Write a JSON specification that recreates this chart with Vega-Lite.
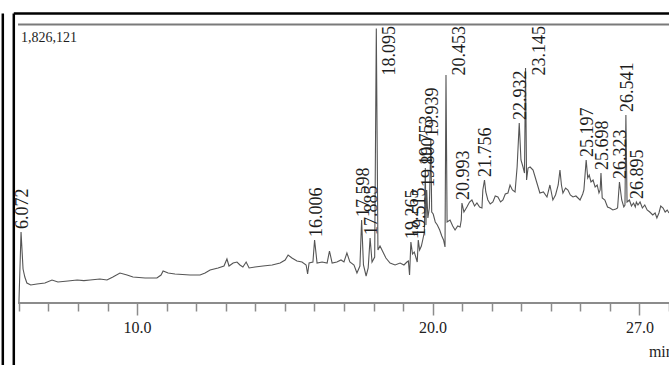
{
  "$schema": "https://vega.github.io/schema/vega-lite/v6.json",
  "width": 669,
  "height": 365,
  "autosize": {"type": "none"},
  "padding": 0,
  "background": "white",
  "config": {
    "view": {"stroke": null},
    "font": "Liberation Serif",
    "axisY": {"disable": true},
    "axisX": {"labelOverlap": false, "labelFlush": false, "labelBound": false, "grid": false, "title": null}
  },
  "datasets": {
    "trace": [
      {"t": 6.00, "v": 0}, {"t": 6.072, "v": 472500}, {"t": 6.14, "v": 226000}, {"t": 6.20, "v": 173000},
      {"t": 6.27, "v": 133100}, {"t": 6.40, "v": 119800}, {"t": 6.61, "v": 126400}, {"t": 6.88, "v": 133100},
      {"t": 7.12, "v": 153100}, {"t": 7.32, "v": 139800}, {"t": 7.66, "v": 146400}, {"t": 7.97, "v": 153100},
      {"t": 8.20, "v": 149000}, {"t": 8.41, "v": 153100}, {"t": 8.74, "v": 159700}, {"t": 8.98, "v": 153100},
      {"t": 9.18, "v": 173000}, {"t": 9.42, "v": 199700}, {"t": 9.66, "v": 186300}, {"t": 9.86, "v": 173000},
      {"t": 10.27, "v": 166400}, {"t": 10.67, "v": 166400}, {"t": 10.81, "v": 186300}, {"t": 10.88, "v": 213000},
      {"t": 11.05, "v": 199700}, {"t": 11.28, "v": 193000}, {"t": 11.79, "v": 186300}, {"t": 12.13, "v": 186300},
      {"t": 12.30, "v": 199700}, {"t": 12.47, "v": 219600}, {"t": 12.74, "v": 232900}, {"t": 12.94, "v": 246200},
      {"t": 13.04, "v": 292800}, {"t": 13.11, "v": 246200}, {"t": 13.25, "v": 266200}, {"t": 13.38, "v": 272900},
      {"t": 13.48, "v": 252900}, {"t": 13.58, "v": 239600}, {"t": 13.69, "v": 272900}, {"t": 13.79, "v": 232900},
      {"t": 13.99, "v": 239600}, {"t": 14.26, "v": 246200}, {"t": 14.57, "v": 252900}, {"t": 14.84, "v": 266200},
      {"t": 15.01, "v": 286200}, {"t": 15.11, "v": 319400}, {"t": 15.24, "v": 299500}, {"t": 15.41, "v": 279500},
      {"t": 15.58, "v": 272900}, {"t": 15.72, "v": 252900}, {"t": 15.77, "v": 193000}, {"t": 15.82, "v": 266200},
      {"t": 15.95, "v": 272900}, {"t": 16.006, "v": 419300}, {"t": 16.09, "v": 266200}, {"t": 16.26, "v": 272900},
      {"t": 16.43, "v": 266200}, {"t": 16.51, "v": 346100}, {"t": 16.60, "v": 266200}, {"t": 16.76, "v": 272900},
      {"t": 16.90, "v": 286200}, {"t": 17.00, "v": 272900}, {"t": 17.10, "v": 332800}, {"t": 17.20, "v": 272900},
      {"t": 17.34, "v": 252900}, {"t": 17.44, "v": 199700}, {"t": 17.54, "v": 246200}, {"t": 17.598, "v": 552400},
      {"t": 17.66, "v": 252900}, {"t": 17.75, "v": 179700}, {"t": 17.82, "v": 232900}, {"t": 17.885, "v": 432600},
      {"t": 17.95, "v": 272900}, {"t": 18.04, "v": 306100}, {"t": 18.095, "v": 1826121}, {"t": 18.15, "v": 352700},
      {"t": 18.22, "v": 379300}, {"t": 18.32, "v": 339400}, {"t": 18.42, "v": 299500}, {"t": 18.56, "v": 266200},
      {"t": 18.73, "v": 252900}, {"t": 18.90, "v": 266200}, {"t": 19.03, "v": 252900}, {"t": 19.13, "v": 272900},
      {"t": 19.18, "v": 279500}, {"t": 19.22, "v": 186300}, {"t": 19.265, "v": 406000}, {"t": 19.32, "v": 326100},
      {"t": 19.38, "v": 339400}, {"t": 19.44, "v": 299500}, {"t": 19.48, "v": 272900}, {"t": 19.515, "v": 419300},
      {"t": 19.56, "v": 352700}, {"t": 19.62, "v": 379300}, {"t": 19.68, "v": 432600}, {"t": 19.72, "v": 472500},
      {"t": 19.753, "v": 898400}, {"t": 19.775, "v": 519100}, {"t": 19.800, "v": 752000}, {"t": 19.84, "v": 565700},
      {"t": 19.89, "v": 632200}, {"t": 19.939, "v": 1084800}, {"t": 19.97, "v": 605600}, {"t": 20.02, "v": 592300},
      {"t": 20.09, "v": 539100}, {"t": 20.16, "v": 519100}, {"t": 20.24, "v": 485800}, {"t": 20.31, "v": 445900},
      {"t": 20.37, "v": 419300}, {"t": 20.42, "v": 372700}, {"t": 20.453, "v": 1517300}, {"t": 20.49, "v": 539100},
      {"t": 20.59, "v": 552400}, {"t": 20.68, "v": 512400}, {"t": 20.76, "v": 485800}, {"t": 20.85, "v": 512400},
      {"t": 20.93, "v": 505800}, {"t": 20.97, "v": 552400}, {"t": 20.993, "v": 665500}, {"t": 21.06, "v": 605600},
      {"t": 21.16, "v": 638900}, {"t": 21.25, "v": 672200}, {"t": 21.33, "v": 685500}, {"t": 21.42, "v": 645500},
      {"t": 21.50, "v": 665500}, {"t": 21.59, "v": 638900}, {"t": 21.67, "v": 632200}, {"t": 21.70, "v": 752000},
      {"t": 21.756, "v": 818600}, {"t": 21.80, "v": 738700}, {"t": 21.87, "v": 685500}, {"t": 21.95, "v": 658800},
      {"t": 22.04, "v": 672200}, {"t": 22.12, "v": 712100}, {"t": 22.21, "v": 705400}, {"t": 22.30, "v": 672200},
      {"t": 22.38, "v": 685500}, {"t": 22.46, "v": 725400}, {"t": 22.55, "v": 732100}, {"t": 22.62, "v": 785300},
      {"t": 22.70, "v": 752000}, {"t": 22.79, "v": 738700}, {"t": 22.86, "v": 905100}, {"t": 22.932, "v": 1197900},
      {"t": 22.99, "v": 951700}, {"t": 23.06, "v": 905100}, {"t": 23.11, "v": 865200}, {"t": 23.145, "v": 1563900},
      {"t": 23.18, "v": 818600}, {"t": 23.23, "v": 898400}, {"t": 23.30, "v": 905100}, {"t": 23.40, "v": 885100},
      {"t": 23.53, "v": 798600}, {"t": 23.63, "v": 732100}, {"t": 23.75, "v": 738700}, {"t": 23.87, "v": 705400},
      {"t": 23.97, "v": 785300}, {"t": 24.07, "v": 685500}, {"t": 24.16, "v": 718700}, {"t": 24.25, "v": 785300},
      {"t": 24.31, "v": 885100}, {"t": 24.36, "v": 785300}, {"t": 24.41, "v": 732100}, {"t": 24.50, "v": 765300},
      {"t": 24.58, "v": 752000}, {"t": 24.66, "v": 718700}, {"t": 24.75, "v": 705400}, {"t": 24.85, "v": 712100},
      {"t": 24.99, "v": 685500}, {"t": 25.08, "v": 725400}, {"t": 25.12, "v": 752000}, {"t": 25.197, "v": 951700},
      {"t": 25.25, "v": 831900}, {"t": 25.30, "v": 851800}, {"t": 25.36, "v": 805300}, {"t": 25.43, "v": 818600},
      {"t": 25.50, "v": 772000}, {"t": 25.57, "v": 785300}, {"t": 25.63, "v": 732100}, {"t": 25.67, "v": 752000},
      {"t": 25.698, "v": 865200}, {"t": 25.74, "v": 698800}, {"t": 25.83, "v": 685500}, {"t": 25.92, "v": 638900},
      {"t": 26.00, "v": 632200}, {"t": 26.10, "v": 618900}, {"t": 26.20, "v": 625600}, {"t": 26.26, "v": 632200},
      {"t": 26.323, "v": 805300}, {"t": 26.40, "v": 685500}, {"t": 26.47, "v": 638900}, {"t": 26.51, "v": 652200},
      {"t": 26.541, "v": 1251100}, {"t": 26.58, "v": 672200}, {"t": 26.66, "v": 685500}, {"t": 26.73, "v": 645500},
      {"t": 26.80, "v": 665500}, {"t": 26.86, "v": 638900}, {"t": 26.895, "v": 672200}, {"t": 26.95, "v": 652200},
      {"t": 27.02, "v": 672200}, {"t": 27.10, "v": 632200}, {"t": 27.18, "v": 652200}, {"t": 27.26, "v": 618900},
      {"t": 27.35, "v": 605600}, {"t": 27.45, "v": 585600}, {"t": 27.53, "v": 599000}, {"t": 27.59, "v": 565700},
      {"t": 27.66, "v": 599000}, {"t": 27.72, "v": 645500}, {"t": 27.80, "v": 632200}, {"t": 27.87, "v": 605600},
      {"t": 27.94, "v": 618900}, {"t": 28.00, "v": 599000}
    ],
    "peaks": [
      {"label": "6.072", "t": 6.072, "v": 472500},
      {"label": "16.006", "t": 16.006, "v": 419300},
      {"label": "17.598", "t": 17.598, "v": 552400},
      {"label": "17.885", "t": 17.885, "v": 432600},
      {"label": "18.095", "t": 18.095, "v": 1826121},
      {"label": "19.265", "t": 19.265, "v": 406000},
      {"label": "19.515", "t": 19.515, "v": 419300},
      {"label": "19.753", "t": 19.753, "v": 898400},
      {"label": "19.800", "t": 19.800, "v": 752000},
      {"label": "19.939", "t": 19.939, "v": 1084800},
      {"label": "20.453", "t": 20.453, "v": 1517300},
      {"label": "20.993", "t": 20.993, "v": 665500},
      {"label": "21.756", "t": 21.756, "v": 818600},
      {"label": "22.932", "t": 22.932, "v": 1197900},
      {"label": "23.145", "t": 23.145, "v": 1563900},
      {"label": "25.197", "t": 25.197, "v": 951700},
      {"label": "25.698", "t": 25.698, "v": 865200},
      {"label": "26.323", "t": 26.323, "v": 805300},
      {"label": "26.541", "t": 26.541, "v": 1251100},
      {"label": "26.895", "t": 26.895, "v": 672200}
    ]
  },
  "layer": [
    {
      "data": {"name": "trace"},
      "mark": {"type": "line", "color": "#555555", "strokeWidth": 1.1, "interpolate": "linear"},
      "encoding": {
        "x": {
          "field": "t", "type": "quantitative",
          "scale": {"domain": [5.36, 28.0], "nice": false, "zero": false},
          "axis": {
            "orient": "bottom", "offset": -62, "title": null, "grid": false, "domain": false,
            "values": [6,7,8,9,10,11,12,13,14,15,16,17,18,19,20,21,22,23,24,25,26,27,28],
            "tickCount": 40,
            "tickColor": "#8c8c8c", "tickWidth": 1.5,
            "tickSize": {"condition": {"test": "datum.value == 10 || datum.value == 20 || datum.value == 27", "value": 12}, "value": 8},
            "labelExpr": "datum.value == 10 || datum.value == 20 || datum.value == 27 ? format(datum.value, '.1f') : ''",
            "labelFont": "Liberation Serif", "labelFontSize": 16, "labelColor": "#222222",
            "labelPadding": 4, "labelOverlap": false, "labelFlush": false, "labelBound": false
          }
        },
        "y": {
          "field": "v", "type": "quantitative",
          "scale": {"domain": [-412600, 2016500], "nice": false, "zero": false},
          "axis": null
        }
      }
    },
    {
      "data": {"values": [{}]},
      "mark": {"type": "rule", "color": "#8c8c8c", "strokeWidth": 2},
      "encoding": {
        "x": {"datum": 5.97, "type": "quantitative"},
        "x2": {"datum": 28.0},
        "y": {"datum": 0, "type": "quantitative", "axis": null}
      }
    },
    {
      "data": {"values": [{}]},
      "mark": {"type": "rule", "color": "#7a7a7a", "strokeWidth": 2},
      "encoding": {
        "x": {"datum": 5.97, "type": "quantitative"},
        "x2": {"datum": 28.0},
        "y": {"datum": 1853400, "type": "quantitative", "axis": null}
      }
    },
    {
      "data": {"values": [{}]},
      "mark": {"type": "rule", "color": "#000000", "strokeWidth": 2.5},
      "encoding": {
        "x": {"datum": 5.827, "type": "quantitative"},
        "x2": {"datum": 28.0},
        "y": {"datum": 1926600, "type": "quantitative", "axis": null}
      }
    },
    {
      "data": {"values": [{}]},
      "mark": {"type": "rule", "color": "#000000", "strokeWidth": 2.5},
      "encoding": {
        "x": {"datum": 5.827, "type": "quantitative"},
        "y": {"datum": 1926600, "type": "quantitative", "axis": null},
        "y2": {"datum": -412600}
      }
    },
    {
      "data": {"values": [{}]},
      "mark": {"type": "rule", "color": "#000000", "strokeWidth": 2.5},
      "encoding": {
        "x": {"datum": 5.455, "type": "quantitative"},
        "y": {"datum": 1926600, "type": "quantitative", "axis": null},
        "y2": {"datum": -412600}
      }
    },
    {
      "data": {"name": "peaks"},
      "transform": [{"filter": "datum.v < 1400000"}],
      "mark": {"type": "text", "angle": 270, "align": "left", "baseline": "middle", "dx": 3, "dy": 2, "font": "Liberation Serif", "fontSize": 18, "fill": "#1e1e1e"},
      "encoding": {
        "x": {"field": "t", "type": "quantitative"},
        "y": {"field": "v", "type": "quantitative", "axis": null},
        "text": {"field": "label"}
      }
    },
    {
      "data": {"name": "peaks"},
      "transform": [{"filter": "datum.v >= 1400000"}],
      "mark": {"type": "text", "angle": 270, "align": "right", "baseline": "middle", "dx": 0, "dy": 14, "font": "Liberation Serif", "fontSize": 18, "fill": "#1e1e1e"},
      "encoding": {
        "x": {"field": "t", "type": "quantitative"},
        "y": {"datum": 1843400, "type": "quantitative", "axis": null},
        "text": {"field": "label"}
      }
    },
    {
      "data": {"values": [{"label": "1,826,121"}]},
      "mark": {"type": "text", "align": "left", "baseline": "middle", "font": "Liberation Serif", "fontSize": 14, "fill": "#1e1e1e"},
      "encoding": {
        "x": {"datum": 6.07, "type": "quantitative"},
        "y": {"datum": 1763600, "type": "quantitative", "axis": null},
        "text": {"field": "label"}
      }
    },
    {
      "data": {"values": [{"label": "min"}]},
      "mark": {"type": "text", "align": "left", "baseline": "alphabetic", "font": "Liberation Serif", "fontSize": 16, "fill": "#1e1e1e"},
      "encoding": {
        "x": {"datum": 27.32, "type": "quantitative"},
        "y": {"datum": -359400, "type": "quantitative", "axis": null},
        "text": {"field": "label"}
      }
    }
  ]
}
